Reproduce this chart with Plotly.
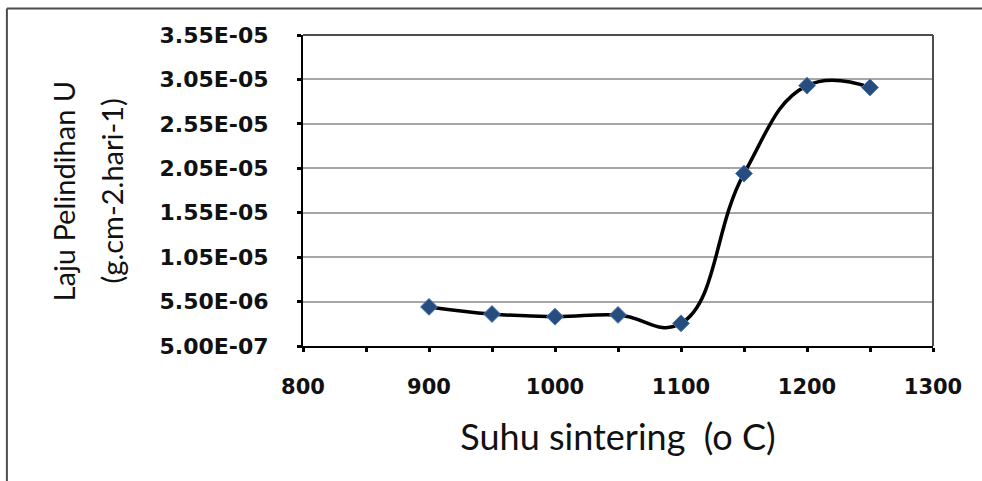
import plotly.graph_objects as go

# ---- data ----
suhu = [900, 950, 1000, 1050, 1100, 1150, 1200, 1250]
laju = [4.9e-6, 4.1e-6, 3.8e-6, 4.0e-6, 3.05e-6, 1.99e-5, 2.98e-5, 2.96e-5]

x_tick_vals = [800, 900, 1000, 1100, 1200, 1300]
x_tick_text = ["800", "900", "1000", "1100", "1200", "1300"]
y_tick_vals = [5.0e-7, 5.5e-6, 1.05e-5, 1.55e-5, 2.05e-5, 2.55e-5, 3.05e-5, 3.55e-5]
y_tick_text = ["5.00E-07", "5.50E-06", "1.05E-05", "1.55E-05", "2.05E-05",
               "2.55E-05", "3.05E-05", "3.55E-05"]

x_title = "Suhu sintering\u00a0 (o C)"
y_title_1 = "Laju Pelindihan U"
y_title_2 = "(g.cm-2.hari-1)"

# ---- figure ----
fig = go.Figure()
fig.add_trace(go.Scatter(
    x=suhu, y=laju, mode="lines+markers",
    line=dict(color="black", width=3.5, shape="spline", smoothing=1.25),
    marker=dict(symbol="diamond", size=13, color="#264d7e",
                line=dict(color="#4a7bb7", width=1)),
    showlegend=False,
))

x_tick_font = dict(family="DejaVu Sans", size=21, color="#111", weight="bold")
y_tick_font = dict(family="DejaVu Sans", size=22, color="#111", weight="bold")

fig.update_layout(
    width=982, height=481,
    margin=dict(l=303, r=49, t=35, b=135),
    paper_bgcolor="white", plot_bgcolor="white",
    xaxis=dict(
        range=[800, 1300], tickvals=x_tick_vals, ticktext=x_tick_text,
        showgrid=False, zeroline=False,
        showline=True, linecolor="black", linewidth=2,
        ticks="outside", ticklen=4, tickwidth=3, tickcolor="black",
        minor=dict(dtick=50, tick0=800, ticks="outside", ticklen=4,
                   tickwidth=3, tickcolor="black", showgrid=False),
        tickfont=x_tick_font, ticklabelstandoff=17,
        title=dict(text=x_title, font=dict(family="Lato", size=36, color="#111"),
                   standoff=27),
    ),
    yaxis=dict(
        range=[5.0e-7, 3.55e-5], tickvals=y_tick_vals, ticktext=y_tick_text,
        showgrid=True, gridcolor="#a6a6a6", gridwidth=1.5, zeroline=False,
        showline=True, linecolor="black", linewidth=2,
        ticks="outside", ticklen=4, tickwidth=3, tickcolor="black",
        tickfont=y_tick_font, ticklabelstandoff=24,
    ),
    annotations=[
        dict(text=y_title_1, xref="paper", yref="paper", x=-0.3795, y=0.5,
             xanchor="center", yanchor="middle", textangle=-90, showarrow=False,
             font=dict(family="Lato", size=29, color="#111")),
        dict(text=y_title_2, xref="paper", yref="paper", x=-0.3033, y=0.5,
             xanchor="center", yanchor="middle", textangle=-90, showarrow=False,
             font=dict(family="Lato", size=29, color="#111")),
    ],
    shapes=[
        # plot-area top and right borders
        dict(type="line", xref="paper", yref="paper", x0=0, x1=1, y0=1, y1=1,
             line=dict(color="#4d4d4d", width=2), layer="above"),
        dict(type="line", xref="paper", yref="paper", x0=1, x1=1, y0=0, y1=1,
             line=dict(color="#4d4d4d", width=2), layer="above"),
        # outer chart frame (top and left edges)
        dict(type="line", xref="paper", yref="paper", x0=-0.47, x1=1.1, y0=1.085, y1=1.085,
             line=dict(color="#4d4d4d", width=2)),
        dict(type="line", xref="paper", yref="paper", x0=-0.47, x1=-0.47, y0=-0.5, y1=1.085,
             line=dict(color="#4d4d4d", width=2)),
    ],
)

fig.write_html("out.html", config={"displayModeBar": False},
               post_script="document.body.style.margin='0px';")
